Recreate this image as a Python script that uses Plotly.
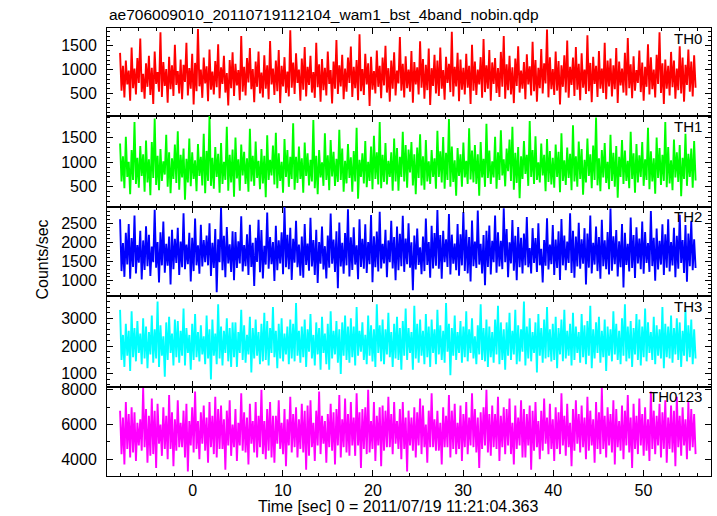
import numpy as np
import plotly.graph_objects as go

title_text = "ae706009010_20110719112104_wam1_bst_4band_nobin.qdp"
x_label = "Time [sec] 0 = 2011/07/19 11:21:04.363"
y_label = "Counts/sec"
bands = ["TH0", "TH1", "TH2", "TH3", "TH0123"]
colors = ["#ff0000", "#00ff00", "#0000ff", "#00ffff", "#ff00ff"]

# time grid of the light curve (start of data, total span in sec)
t_start = -8.05
t_span = 64.0

th0 = [1350, 560, 1080, 420, 1190, 690, 980, 350, 1460, 610, 1020, 480, 1240, 720, 1650, 530, 910, 390, 1130, 640,
       1290, 470, 1040, 280, 1380, 700, 950, 540, 1780, 430, 1160, 660, 1010, 310, 1270, 590, 1090, 450, 1520, 680,
       970, 500, 1210, 380, 1100, 740, 1560, 460, 1030, 600, 1330, 270, 1140, 550, 1850, 650, 1000, 410, 1250, 710,
       1070, 340, 1420, 580, 960, 480, 1180, 630, 1530, 400, 1050, 700, 1290, 520, 930, 250, 1200, 610, 1360, 450,
       1120, 670, 990, 360, 1700, 540, 1060, 460, 1240, 730, 1450, 590, 1010, 320, 1170, 640, 1380, 500, 940, 420,
       1300, 600, 1090, 380, 1600, 690, 1020, 470, 1190, 550, 1410, 300, 1080, 650, 1260, 510, 960, 440, 1820, 620,
       1150, 490, 1340, 720, 1000, 350, 1230, 580, 1470, 440, 1060, 680, 1290, 520, 950, 410, 1560, 630, 1110, 330,
       1220, 570, 1040, 460, 1380, 700, 990, 290, 1170, 600, 1620, 490, 1090, 650, 1310, 380, 1020, 540, 1250, 720,
       1480, 430, 1060, 610, 1200, 360, 1740, 550, 1010, 470, 1330, 690, 1130, 240, 1270, 580, 970, 500, 1400, 640,
       1080, 400, 1250, 670, 1500, 520, 1030, 330, 1190, 600, 1360, 460, 980, 710, 1680, 560, 1120, 420, 1280, 610,
       1000, 540, 1390, 310, 1160, 690, 1050, 480, 1590, 620, 1220, 390, 1100, 570, 1440, 260, 1030, 660, 1310, 500,
       1190, 450, 1460, 600, 990, 370, 1270, 720, 1120, 530, 1790, 440, 1060, 650, 1350, 340, 1210, 580, 1040, 480,
       1330, 620, 1080, 280, 1520, 560, 1170, 470, 1000, 690, 1260, 410, 1640, 530, 1090, 600, 1410, 350, 1150, 700,
       1240, 510, 1030, 430, 1370, 640, 1700, 390, 1110, 570, 1290, 480, 1050, 300, 1230, 660, 1490, 520, 980, 600,
       1160, 380, 1320, 690, 1070, 460, 1580, 550, 1200, 330, 1040, 610, 1430, 500, 1130, 710, 1840, 420, 1260, 590,
       1010, 470, 1380, 560, 1180, 270, 1090, 640, 1300, 520, 1610, 410, 1060, 680, 1250, 450, 1470, 580, 1120, 360,
       1340, 620, 1000, 490, 1720, 550, 1140, 320, 1270, 700, 1080, 430, 1390, 600, 1020, 510, 1560, 380, 1190, 650,
       1230, 440, 1090, 590, 1450, 300, 1170, 670, 1020, 520, 1350, 460, 1660, 610, 1110, 400, 1280, 560, 990, 720,
       1400, 530, 1150, 350, 1060, 640, 1530, 480, 1260, 590, 1000, 420, 1310, 700, 1780, 510, 1130, 280, 1210, 600,
       1080, 460, 1370, 630, 1190, 390, 1020, 570, 1490, 500, 1250, 330, 1100, 680, 1420, 540, 1170, 440, 1300, 620]

th1 = [1380, 610, 1120, 470, 1520, 700, 1010, 350, 1250, 640, 1820, 560, 1090, 480, 1330, 720, 1160, 400, 1440, 590,
       1060, 330, 1410, 680, 1890, 540, 1130, 430, 1270, 620, 1020, 750, 1560, 500, 1200, 370, 1080, 660, 1360, 580,
       1630, 440, 1150, 690, 1280, 240, 1070, 590, 1480, 510, 1200, 660, 1040, 410, 1370, 720, 1110, 530, 1580, 370,
       1230, 620, 1940, 520, 1090, 460, 1310, 700, 1170, 380, 1390, 560, 1010, 640, 1720, 420, 1150, 590, 1260, 300,
       1500, 670, 1060, 420, 1360, 730, 1210, 560, 1080, 400, 1680, 610, 1130, 520, 1420, 680, 1030, 450, 1270, 570,
       1130, 290, 1550, 640, 1050, 730, 1340, 550, 1600, 470, 1180, 620, 1010, 380, 1470, 700, 1250, 500, 1110, 660,
       1790, 440, 1110, 580, 1320, 660, 1080, 380, 1400, 720, 1180, 530, 1050, 610, 1860, 470, 1130, 350, 1250, 690,
       1000, 520, 1590, 640, 1140, 430, 1450, 710, 1210, 520, 1070, 600, 1660, 640, 1280, 400, 1030, 570, 1370, 680,
       1100, 400, 1230, 610, 1700, 260, 1050, 700, 1180, 570, 1430, 490, 1010, 620, 1320, 450, 1540, 660, 1200, 550,
       1820, 470, 1150, 600, 1390, 550, 1030, 700, 1200, 420, 1480, 610, 1290, 420, 1110, 700, 1620, 610, 1350, 480,
       1260, 790, 1410, 530, 1160, 350, 1300, 680, 1570, 530, 1120, 440, 1450, 610, 1020, 560, 1250, 700, 1080, 460,
       1640, 700, 1220, 590, 1510, 460, 1190, 640, 1880, 500, 1320, 600, 1040, 320, 1290, 720, 1160, 500, 1400, 690,
       1030, 560, 1690, 650, 1240, 590, 1350, 560, 1160, 320, 1410, 690, 1070, 500, 1780, 680, 1240, 560, 1020, 690,
       1520, 460, 1200, 640, 1650, 730, 1060, 510, 1280, 820, 1460, 620, 1720, 440, 1190, 580, 1310, 270, 1120, 660,
       1430, 760, 1150, 520, 1840, 700, 1250, 560, 1530, 640, 1000, 590, 1380, 730, 1150, 410, 1470, 600, 1230, 550,
       1090, 480, 1360, 700, 1210, 390, 1590, 620, 1040, 540, 1300, 680, 1170, 430, 1750, 610, 1120, 500, 1420, 660,
       1270, 340, 1050, 590, 1480, 720, 1160, 470, 1340, 640, 1910, 530, 1080, 410, 1250, 690, 1390, 580, 1010, 450,
       1560, 620, 1190, 500, 1330, 280, 1110, 700, 1450, 560, 1240, 620, 1030, 470, 1620, 660, 1180, 380, 1370, 590,
       1140, 700, 1410, 520, 1060, 640, 1700, 450, 1220, 610, 1080, 360, 1500, 680, 1290, 540, 1150, 620, 1820, 490,
       1310, 570, 1040, 430, 1460, 690, 1200, 600, 1350, 310, 1090, 660, 1580, 520, 1170, 700, 1280, 480, 1430, 630]

th2 = [2600, 1250, 1980, 1100, 2250, 1420, 2480, 1050, 2110, 1360, 2700, 1190, 1930, 1470, 2300, 1030, 2050, 1280, 2420, 1380,
       2200, 1120, 1890, 1480, 2850, 1340, 2010, 950, 2260, 1400, 2540, 1210, 1960, 1390, 2150, 900, 2330, 1300, 2090, 1460,
       2380, 1150, 2020, 1350, 2760, 1300, 1940, 1430, 2250, 980, 2120, 1250, 2620, 1400, 1920, 1180, 2460, 1370, 2060, 1480,
       2180, 1400, 2500, 1120, 1990, 1330, 2350, 700, 2080, 1480, 2900, 1270, 2170, 1090, 2400, 1450, 1950, 1230, 2290, 1010,
       2270, 1330, 2030, 1450, 2680, 1240, 1930, 1380, 2210, 1150, 2460, 1360, 1990, 860, 2120, 1490, 2590, 1220, 2320, 1060,
       1910, 1420, 2780, 1310, 2140, 1430, 2010, 990, 2430, 1270, 2050, 1450, 2260, 1170, 2920, 1350, 2200, 1300, 2380, 1020,
       2090, 1470, 2560, 1350, 1940, 1130, 2150, 1080, 2480, 1410, 1970, 1260, 2640, 1370, 2060, 1150, 2330, 940, 2010, 1440,
       2410, 1290, 1900, 1060, 2180, 1340, 2750, 1440, 2070, 1230, 2290, 800, 2520, 1370, 1990, 1180, 2240, 1400, 2860, 1110,
       2130, 1280, 2390, 1420, 1920, 1040, 2600, 1360, 2090, 1310, 2470, 1200, 2010, 1430, 2710, 960, 2160, 1350, 2280, 1240,
       2800, 1320, 1960, 1450, 2330, 1090, 2050, 1480, 2560, 1320, 2140, 1010, 2410, 1270, 2220, 1380, 2690, 1230, 2100, 1430,
       2500, 1340, 2000, 750, 2180, 1290, 2360, 1410, 1870, 1170, 2150, 1250, 2620, 1410, 2010, 1080, 2430, 1320, 2240, 1390,
       2840, 1310, 2190, 1050, 2300, 1480, 2080, 1360, 2740, 1160, 2200, 1440, 1970, 1270, 2480, 1130, 2210, 1400, 2790, 1250,
       2330, 1190, 2140, 980, 2570, 1380, 2020, 1330, 2830, 1420, 1960, 1190, 2190, 880, 2300, 1360, 2440, 1160, 2040, 1480,
       2700, 1210, 2260, 1370, 2040, 1300, 2890, 1480, 2350, 1090, 2000, 1450, 2580, 1260, 2170, 1010, 2400, 1350, 2120, 1190,
       2230, 1400, 2660, 1350, 1850, 1190, 2370, 1460, 2110, 1230, 2500, 1400, 1830, 950, 2060, 1390, 2630, 1290, 1940, 1430,
       2450, 1150, 2070, 1330, 2290, 1020, 2610, 1400, 2180, 1270, 2020, 1460, 2760, 1200, 2300, 1080, 2150, 1370, 2510, 1310,
       2080, 1440, 2370, 900, 2230, 1340, 2700, 1190, 1990, 1420, 2410, 1250, 2140, 1050, 2590, 1380, 2050, 1300, 2270, 1160,
       2880, 1260, 2160, 1430, 2320, 1110, 2030, 1350, 2480, 820, 2250, 1410, 1960, 1240, 2650, 1330, 2190, 1070, 2390, 1450,
       2100, 1300, 2540, 1180, 2270, 1460, 1980, 1230, 2820, 1380, 2120, 1000, 2360, 1290, 2040, 1420, 2470, 1150, 2210, 1340,
       2600, 1240, 2010, 1400, 2380, 1090, 2170, 1310, 2720, 1460, 2060, 1200, 2450, 970, 2230, 1380, 2560, 1270, 2080, 1330]

th3 = [3300, 1500, 2400, 1250, 2800, 1650, 2550, 1100, 3250, 1600, 2650, 1450, 2900, 1750, 2450, 1350, 3000, 1550, 2700, 1200,
       2500, 1700, 3100, 1400, 2600, 1550, 3600, 1250, 2750, 1650, 2350, 900, 2850, 1500, 3050, 1750, 2450, 1300, 2950, 1600,
       2900, 1400, 2550, 1650, 3350, 1300, 2650, 1750, 2400, 1150, 2800, 1500, 3150, 1600, 2500, 1450, 2750, 1700, 2350, 1350,
       3100, 1550, 2600, 800, 2950, 1650, 2450, 1350, 3500, 1550, 2700, 1300, 2550, 1750, 3000, 1450, 2650, 1250, 2850, 1600,
       2850, 1250, 2500, 1750, 3300, 1500, 2750, 1400, 2400, 1700, 3050, 1050, 2650, 1550, 2950, 1650, 2500, 1350, 2800, 1450,
       3200, 1500, 2900, 1300, 2650, 1750, 3400, 1600, 2550, 1200, 2800, 1550, 3000, 1450, 2450, 1700, 2700, 1350, 2950, 1550,
       2800, 1450, 3550, 1650, 2550, 1400, 2700, 1600, 2950, 1250, 2600, 1800, 3150, 1550, 2400, 1300, 2850, 1700, 2650, 1150,
       3050, 1750, 2450, 1350, 2800, 1150, 3250, 1550, 2550, 1700, 2900, 1400, 2600, 1000, 2850, 1650, 3100, 1500, 2700, 1400,
       3000, 1600, 2700, 1300, 3400, 1650, 2550, 1800, 2850, 1500, 2400, 1350, 3100, 1650, 2750, 1450, 2600, 1250, 3500, 1750,
       2750, 1450, 2950, 1350, 2600, 1700, 3200, 1600, 2500, 1250, 2800, 1550, 3050, 1500, 2650, 1150, 2900, 1650, 3350, 1500,
       2650, 1750, 2500, 1150, 3450, 1550, 2800, 1400, 2950, 1650, 2550, 1350, 3150, 1600, 2700, 1250, 2950, 1750, 2600, 1350,
       3300, 1700, 2750, 1500, 2550, 1400, 3550, 1800, 2800, 950, 2650, 1650, 3100, 1500, 2500, 1750, 2900, 1400, 2700, 1600,
       3250, 1450, 2600, 1750, 3000, 1550, 2350, 1350, 2750, 1700, 3500, 1500, 2650, 1450, 2950, 1250, 2700, 1600, 2500, 1400,
       2950, 1700, 3450, 1350, 2850, 1500, 2600, 1150, 2850, 1650, 3200, 1500, 2550, 1700, 3300, 1350, 2750, 1450, 2600, 1800,
       3600, 1300, 2700, 1550, 3000, 1450, 2500, 1750, 2850, 1050, 3150, 1650, 2650, 1400, 2950, 1550, 3400, 1600, 2600, 1450,
       2800, 1500, 3050, 1200, 2650, 1700, 2950, 1450, 3300, 1550, 2550, 1650, 2800, 1300, 3200, 1500, 2700, 1750, 2500, 1400,
       3150, 1600, 2750, 1350, 2900, 1650, 3450, 1200, 2600, 1550, 2850, 1750, 3050, 1400, 2550, 1600, 2950, 1100, 2700, 1650,
       2600, 1450, 3250, 1700, 2800, 1500, 2550, 1350, 3000, 1650, 3500, 1450, 2700, 1550, 2900, 1250, 2650, 1700, 3150, 1500,
       2950, 1300, 2700, 1600, 3350, 1450, 2850, 1750, 2500, 1500, 3050, 1350, 2750, 1650, 2600, 1550, 3400, 1200, 2800, 1600,
       2700, 1550, 3100, 1400, 2650, 1700, 3000, 1500, 2850, 1250, 2550, 1650, 3300, 1450, 2750, 1600, 2950, 1350, 2600, 1550]

th0123 = [6800, 4300, 6400, 3700, 7300, 4600, 6600, 4100, 7000, 4400, 6700, 3900, 6100, 4800, 6300, 4500, 8100, 4700, 6900, 3800,
          6500, 4200, 7500, 4300, 6800, 3500, 7200, 4900, 6000, 4200, 7000, 4600, 6500, 4000, 7700, 4600, 6700, 3600, 6300, 4500,
          7400, 4700, 6100, 4700, 6800, 4100, 7200, 3300, 6200, 4800, 7000, 4400, 7900, 4600, 6200, 4000, 6700, 4900, 7100, 4500,
          6400, 3800, 7300, 4700, 6500, 4300, 7600, 4100, 6900, 4600, 7100, 4600, 6300, 3400, 6800, 4800, 7400, 4200, 6000, 4700,
          6900, 3900, 6100, 4800, 7800, 4500, 6700, 4400, 6400, 3700, 7200, 4900, 6200, 4400, 7300, 4100, 6500, 4700, 8000, 4300,
          6200, 4000, 6900, 4500, 7300, 4100, 6500, 3800, 6500, 4900, 7400, 4600, 6100, 4300, 6900, 3600, 6300, 4800, 7600, 4400,
          6600, 4700, 7000, 4100, 6300, 4600, 7200, 4400, 6800, 3400, 7100, 4200, 7400, 4700, 6100, 3900, 6800, 4800, 7900, 4300,
          6500, 4900, 6200, 3800, 6600, 4700, 7200, 4500, 6700, 3700, 6900, 4800, 7700, 4100, 6300, 4700, 7500, 4400, 6600, 4200,
          7300, 4800, 6400, 4200, 7800, 4800, 6700, 3500, 6900, 4600, 7000, 4300, 8000, 4400, 6200, 4600, 7300, 3900, 6500, 4800,
          7000, 3600, 7100, 4500, 6800, 4700, 7600, 4700, 6600, 4300, 7300, 4900, 6200, 4600, 6900, 4000, 7300, 4600, 6400, 3300,
          6800, 4800, 6400, 4500, 7000, 4100, 6700, 4800, 7500, 4300, 7100, 4700, 6000, 3800, 6800, 4700, 7800, 4700, 6300, 4500,
          6800, 4500, 6100, 3700, 7000, 4700, 6500, 4700, 7700, 4100, 6800, 4600, 7200, 4300, 6100, 4600, 7100, 3900, 6600, 4700,
          7300, 4300, 6400, 4800, 7800, 4700, 6900, 4400, 6400, 3500, 6700, 4600, 7000, 4800, 8000, 4400, 6600, 4200, 7100, 4700,
          6600, 4600, 7600, 3900, 6500, 4700, 7000, 4300, 6900, 4800, 7500, 4300, 6100, 3700, 7100, 4600, 6400, 4800, 7400, 4100,
          6900, 4100, 6600, 4800, 7100, 3400, 6800, 4500, 7300, 4700, 6200, 4000, 6800, 4500, 7500, 4900, 6400, 4300, 7200, 4600,
          6300, 3900, 7000, 4600, 6700, 4300, 7800, 4800, 6500, 4200, 7200, 4700, 6100, 3600, 6900, 4500, 7400, 4900, 6600, 4400,
          7100, 4700, 6400, 4000, 7600, 4500, 6800, 4800, 6300, 3800, 7300, 4600, 6700, 4300, 8100, 4600, 6500, 4100, 7000, 4800,
          6600, 4400, 7400, 3700, 6900, 4700, 6200, 4500, 7100, 4000, 6800, 4800, 7700, 4400, 6400, 3500, 7200, 4600, 6500, 4300,
          7500, 4800, 6600, 4200, 7000, 4500, 6300, 3900, 7900, 4600, 6800, 4300, 6500, 4800, 7200, 4100, 6700, 4600, 7400, 3800,
          6400, 4600, 7100, 4400, 6800, 3600, 7600, 4700, 6500, 4200, 7000, 4800, 6300, 4000, 7300, 4500, 6900, 4700, 6600, 4300]

series = [th0, th1, th2, th3, th0123]
y_ranges = [[30, 1870], [100, 1940], [600, 2935], [545, 3800], [3040, 8190]]
y_major = [500, 500, 500, 1000, 2000]
y_minor = [100, 100, 100, 200, 1000]
x_range = [-9.5, 57.5]

W, H = 717, 516
ml, mr, mt, mb = 107, 6, 28, 40
ph = H - mt - mb
# panel boundaries in pixels from top
bounds_px = [28, 116, 206.5, 296, 386.5, 476]


def ypaper(px):
    return (H - mb - px) / ph


font = "Liberation Sans, Arial, Helvetica, sans-serif"
fig = go.Figure()
layout = dict(width=W, height=H, margin=dict(l=ml, r=mr, t=mt, b=mb),
              paper_bgcolor="white", plot_bgcolor="white", showlegend=False,
              font=dict(family=font, size=16, color="black"))

annotations = []
for i, (vals, name, col) in enumerate(zip(series, bands, colors)):
    k = i + 1
    t = t_start + t_span * np.arange(len(vals)) / len(vals)
    fig.add_trace(go.Scatter(x=t, y=vals, mode="lines",
                             line=dict(color=col, width=1.9, simplify=False),
                             xaxis=f"x{k}" if k > 1 else "x", yaxis=f"y{k}" if k > 1 else "y",
                             hoverinfo="skip"))
    top = ypaper(bounds_px[i])
    bot = ypaper(bounds_px[i + 1])
    xa = dict(range=x_range, anchor=f"y{k}" if k > 1 else "y", showgrid=False, zeroline=False,
              showline=True, linecolor="black", linewidth=1, mirror="ticks",
              ticks="inside", ticklen=6, tickcolor="black", dtick=10, tick0=0,
              minor=dict(dtick=2, ticklen=3, ticks="inside", tickcolor="black"),
              showticklabels=(k == 5), tickfont=dict(size=16))
    ya = dict(domain=[bot, top], range=y_ranges[i], anchor=f"x{k}" if k > 1 else "x",
              showgrid=False, zeroline=False, showline=True, linecolor="black", linewidth=1,
              mirror="ticks", ticks="inside", ticklen=6, tickcolor="black",
              dtick=y_major[i], tick0=0,
              minor=dict(dtick=y_minor[i], ticklen=3, ticks="inside", tickcolor="black"),
              tickfont=dict(size=16), ticklabelstandoff=6)
    if k > 1:
        xa["matches"] = "x"
    layout["xaxis" if k == 1 else f"xaxis{k}"] = xa
    layout["yaxis" if k == 1 else f"yaxis{k}"] = ya
    annotations.append(dict(text=name, xref="paper", yref="paper",
                            x=(704 - ml) / (W - ml - mr), y=ypaper(bounds_px[i] + 10),
                            xanchor="right", yanchor="middle", showarrow=False,
                            font=dict(size=15, family=font)))

annotations.append(dict(text=title_text, xref="paper", yref="paper", x=0, y=ypaper(15),
                        xanchor="left", yanchor="middle", showarrow=False,
                        font=dict(size=15.5, family=font)))
annotations.append(dict(text=x_label, xref="paper", yref="paper",
                        x=(397.5 - ml) / (W - ml - mr), y=ypaper(506),
                        xanchor="center", yanchor="middle", showarrow=False,
                        font=dict(size=16, family=font)))
annotations.append(dict(text=y_label, xref="paper", yref="paper",
                        x=(41.5 - ml) / (W - ml - mr), y=ypaper(260),
                        xanchor="center", yanchor="middle", textangle=-90, showarrow=False,
                        font=dict(size=16, family=font)))
layout["annotations"] = annotations
fig.update_layout(**layout)
fig.write_html("out.html", config={"displayModeBar": False, "staticPlot": True},
               post_script="document.body.style.margin='0';document.body.style.padding='0';"
                           "document.body.style.overflow='hidden';")
